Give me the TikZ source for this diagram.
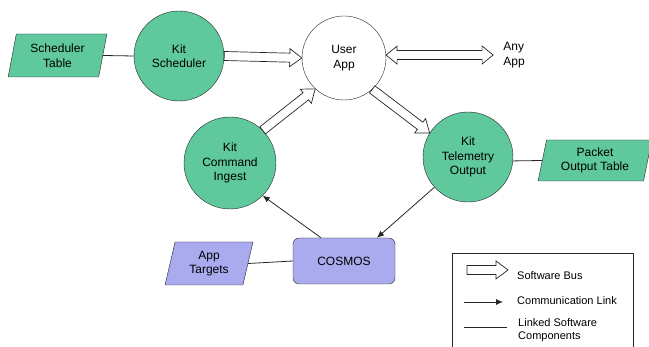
\documentclass[tikz,border=0pt]{standalone}
\usepackage{fontspec}
\setmainfont{Liberation Sans}
\usetikzlibrary{shapes.geometric, arrows.meta, calc}

\definecolor{kitgreen}{RGB}{95,200,156}
\definecolor{gndpurple}{RGB}{170,170,238}

\tikzset{
  kitnode/.style={circle, draw=black!85, fill=kitgreen, minimum size=90pt, inner sep=0pt,
    align=center, font=\fontsize{12}{14.5}\selectfont},
  appnode/.style={circle, draw=black!85, fill=white, minimum size=84pt, inner sep=0pt,
    align=center, font=\fontsize{12}{14.5}\selectfont},
  tablebox/.style={trapezium, trapezium left angle=77, trapezium right angle=103,
    trapezium stretches=true, draw=black!85, minimum height=43pt, inner sep=0pt,
    align=center, font=\fontsize{12}{14.5}\selectfont},
  cosmosbox/.style={rectangle, rounded corners=6pt, draw=black!85, fill=gndpurple,
    minimum width=102pt, minimum height=46pt, font=\fontsize{12}{14.5}\selectfont},
  plaintext/.style={align=left, font=\fontsize{12}{14.5}\selectfont},
  legendtext/.style={anchor=west, align=left, inner sep=0pt, font=\fontsize{11}{12.5}\selectfont},
  linked/.style={draw=black!85, line width=0.8pt},
  commlink/.style={draw=black!85, line width=0.8pt, -{Latex[length=7pt, width=6pt]}},
  % hollow software bus arrow, one head
  swbus/.style={draw=black!85, fill=white, line width=0.7pt, to path={
    let \p1=(\tikztostart), \p2=(\tikztotarget), \n1={atan2(\y2-\y1,\x2-\x1)} in
    ($(\p1)+(\n1-90:4.5)$) -- ($(\p2)+(\n1:-12)+(\n1-90:4.5)$)
    -- ($(\p2)+(\n1:-12)+(\n1-90:9)$) -- (\p2)
    -- ($(\p2)+(\n1:-12)+(\n1+90:9)$) -- ($(\p2)+(\n1:-12)+(\n1+90:4.5)$)
    -- ($(\p1)+(\n1+90:4.5)$) -- cycle}},
  % hollow software bus arrow, two heads
  swbusboth/.style={draw=black!85, fill=white, line width=0.7pt, to path={
    let \p1=(\tikztostart), \p2=(\tikztotarget), \n1={atan2(\y2-\y1,\x2-\x1)} in
    (\p1) -- ($(\p1)+(\n1:11)+(\n1+90:9)$) -- ($(\p1)+(\n1:11)+(\n1+90:4.5)$)
    -- ($(\p2)+(\n1:-11)+(\n1+90:4.5)$) -- ($(\p2)+(\n1:-11)+(\n1+90:9)$) -- (\p2)
    -- ($(\p2)+(\n1:-11)+(\n1-90:9)$) -- ($(\p2)+(\n1:-11)+(\n1-90:4.5)$)
    -- ($(\p1)+(\n1:11)+(\n1-90:4.5)$) -- ($(\p1)+(\n1:11)+(\n1-90:9)$) -- cycle}},
}

\begin{document}
\begin{tikzpicture}[x=1pt, y=1pt]
  \useasboundingbox (0,0) rectangle (649,347);

  \node [tablebox, fill=kitgreen, minimum width=99pt] (schedtab) at (57.5,291.5) {Scheduler\\Table};
  \node [kitnode] (kitsched) at (179,291) {Kit\\Scheduler};
  \node [appnode] (userapp) at (344,289) {User\\App};
  \node [plaintext, inner sep=10pt] (anyapp) at (514,292) {Any\\App};
  \node [kitnode, minimum size=92pt] (kitci) at (230,184) {Kit\\Command\\Ingest};
  \node [kitnode] (kitto) at (468,190) {Kit\\Telemetry\\Output};
  \node [tablebox, fill=kitgreen, minimum width=114pt, minimum height=41pt] (pkttab) at (595,186.5) {Packet\\Output Table};
  \node [cosmosbox] (cosmos) at (344,86) {COSMOS};
  \node [tablebox, fill=gndpurple, minimum width=88pt] (apptgt) at (209,83.5) {App\\Targets};

  \draw [swbus] (kitsched.0) to (userapp.180);
  \draw [swbus] (kitci.45) to (userapp.227);
  \draw [swbus] (userapp.-48) to (kitto.148);
  \draw [swbusboth] (userapp.4) to (anyapp.west);

  \draw [commlink] ([xshift=-23pt]cosmos.north) -- (kitci.-45);
  \draw [commlink] (kitto.222) -- ([xshift=33pt]cosmos.north);

  \draw [linked] (schedtab.east) -- (kitsched.west);
  \draw [linked] (kitto.-5) -- (pkttab.west);
  \draw [linked] (apptgt.east) -- (cosmos.west);

  % legend
  \draw [linked] (452,-2) |- (633,94) -- (633,-2);
  \coordinate (busA) at (467,77);
  \coordinate (busB) at (508,77);
  \draw [swbus] (busA) to (busB);
  \node [legendtext] (bustxt) at (517,71) {Software Bus};
  \coordinate (commA) at (464,45);
  \coordinate (commB) at (503,45);
  \draw [commlink] (commA) -- (commB);
  \node [legendtext] (commtxt) at (517,46) {Communication Link};
  \coordinate (linkA) at (464,20);
  \coordinate (linkB) at (507,20);
  \draw [linked] (linkA) -- (linkB);
  \node [legendtext] (linktxt) at (518,17) {Linked Software\\Components};
\end{tikzpicture}
\end{document}
